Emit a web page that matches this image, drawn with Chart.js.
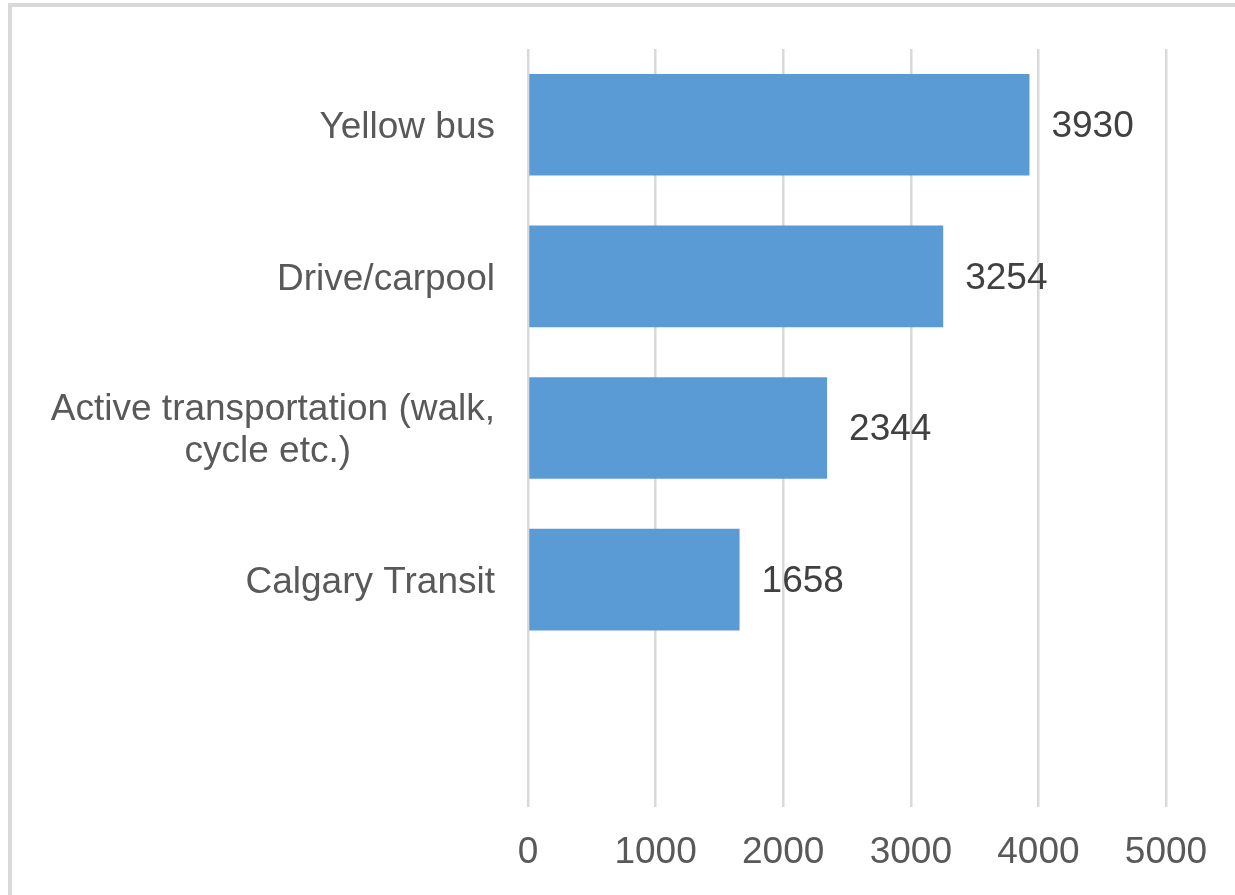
<!DOCTYPE html>
<html lang="en">
<head>
    <meta charset="UTF-8">
    <title>Mode of transportation</title>
    <style>
        body {
            margin: 0;
            background-color: #ffffff;
            font-family: "Liberation Sans", Arial, sans-serif;
        }
        .frame {
            position: absolute;
            left: 8px;
            top: 3px;
            width: 1223px;
            height: 888px;
            border-left: 4px solid #d9d9d9;
            border-top: 4px solid #d9d9d9;
        }
        canvas {
            display: block;
        }
    </style>
</head>
<body>
    <div class="frame">
        <canvas id="chart" width="1223" height="888"></canvas>
    </div>

    <script src="https://cdn.jsdelivr.net/npm/chart.js"></script>
    <script>
        // categories, top to bottom (last slot is empty in the original)
        const categories = [
            'Yellow bus',
            'Drive/carpool',
            ['Active transportation (walk,', 'cycle etc.)              '],
            'Calgary Transit',
            ''
        ];
        const counts = [3930, 3254, 2344, 1658, null];
        const xTicks = [0, 1000, 2000, 3000, 4000, 5000];

        const font = { family: '"Liberation Sans", Arial, sans-serif', size: 37, lineHeight: 1.15 };

        // value labels to the right of each bar
        const barValues = {
            id: 'barValues',
            afterDatasetsDraw(chart) {
                const ctx = chart.ctx;
                const meta = chart.getDatasetMeta(0);
                ctx.save();
                ctx.font = font.size + 'px ' + font.family;
                ctx.fillStyle = '#404040';
                ctx.textAlign = 'left';
                ctx.textBaseline = 'middle';
                meta.data.forEach((bar, i) => {
                    if (counts[i] == null) return;
                    ctx.fillText(String(counts[i]), bar.x + 22, bar.y + 2);
                });
                ctx.restore();
            }
        };

        new Chart(document.getElementById('chart').getContext('2d'), {
            type: 'bar',
            data: {
                labels: categories,
                datasets: [{
                    data: counts,
                    backgroundColor: '#5b9bd5',
                    categoryPercentage: 1,
                    barPercentage: 0.67
                }]
            },
            options: {
                indexAxis: 'y',
                responsive: false,
                animation: false,
                layout: { padding: { top: 42, right: 69, bottom: 0, left: 0 } },
                plugins: {
                    legend: { display: false },
                    tooltip: { enabled: false }
                },
                scales: {
                    x: {
                        min: 0,
                        max: 5000,
                        afterBuildTicks(scale) {
                            scale.ticks = xTicks.map(v => ({ value: v }));
                        },
                        afterFit(scale) {
                            scale.height = 88;
                            scale.paddingLeft = 0;
                            scale.paddingRight = 0;
                        },
                        grid: { color: '#d9d9d9', lineWidth: 2.5, drawTicks: false },
                        border: { display: false },
                        ticks: {
                            color: '#595959',
                            font: font,
                            padding: 25,
                            maxRotation: 0,
                            callback: v => String(v)
                        }
                    },
                    y: {
                        afterFit(scale) {
                            scale.width = 516;
                            scale.paddingTop = 0;
                            scale.paddingBottom = 0;
                        },
                        grid: { display: false, drawTicks: false },
                        border: { display: false },
                        ticks: { color: '#595959', font: font, padding: 33, autoSkip: false, labelOffset: 3 }
                    }
                }
            },
            plugins: [barValues]
        });
    </script>
</body>
</html>
